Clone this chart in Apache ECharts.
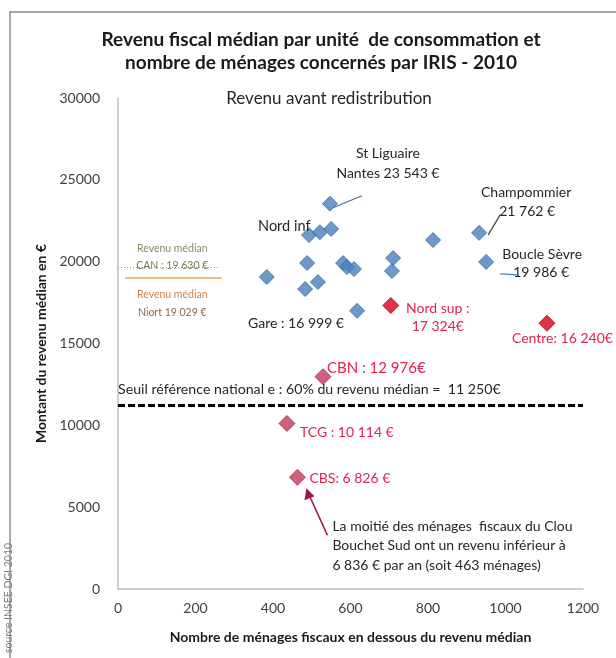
<!DOCTYPE html>
<html>
<head>
<meta charset="utf-8">
<script src="https://cdn.jsdelivr.net/npm/echarts@6/dist/echarts.min.js"></script>
<style>
  html, body { margin: 0; padding: 0; background: #fff; }
  #main { width: 616px; height: 658px; }
</style>
</head>
<body>
<div id="main"></div>
<script>
  // IRIS : nombre de ménages sous le revenu médian / revenu médian
  var blueX = [547, 493, 521, 550, 488, 384, 483, 516, 581, 591, 609, 617, 710, 707, 813, 932, 950]
  var blueY = [23543, 21625, 21800, 22000, 19914, 19060, 18326, 18754, 19914, 19670, 19548, 16999, 20220, 19426, 21319, 21762, 19986]
  var redX = [704, 1107]
  var redY = [17324, 16240]
  var lowX = [529, 436, 463]
  var lowY = [12976, 10114, 6826]
  var seuil = 11250
  var medianCAN = 19630
  var medianNiort = 19029
  var xTicks = [0, 200, 400, 600, 800, 1000, 1200]
  var yTicks = [0, 5000, 10000, 15000, 20000, 25000, 30000]

  var FONT = 'Lato'

  function pairs(xs, ys) {
    return xs.map(function (x, i) { return [x, ys[i]] })
  }

  var chart = echarts.init(document.getElementById('main'))

  var option = {
    animation: false,
    textStyle: { fontFamily: FONT },
    title: {
      text: 'Revenu fiscal médian par unité  de consommation et\nnombre de ménages concernés par IRIS - 2010',
      left: 316,
      top: 23,
      textAlign: 'center',
      textStyle: { fontFamily: FONT, fontSize: 19, fontWeight: 'bold', color: '#1a1a1a', lineHeight: 23 }
    },
    grid: { left: 118, right: 33, top: 98, bottom: 69 },
    xAxis: {
      type: 'value',
      min: xTicks[0],
      max: xTicks[xTicks.length - 1],
      interval: 200,
      name: 'Nombre de ménages fiscaux en dessous du revenu médian',
      nameLocation: 'middle',
      nameGap: 41,
      nameTextStyle: { fontFamily: FONT, fontSize: 14, fontWeight: 'bold', color: '#1a1a1a' },
      axisLine: { show: true, lineStyle: { color: '#bfbfbf', width: 1.5 } },
      axisTick: { show: false },
      splitLine: { show: false },
      axisLabel: { fontFamily: FONT, fontSize: 14, color: '#404040', margin: 12, formatter: function (v) { return String(v) } }
    },
    yAxis: {
      type: 'value',
      min: yTicks[0],
      max: yTicks[yTicks.length - 1],
      interval: 5000,
      name: 'Montant du revenu médian en €',
      nameLocation: 'middle',
      nameGap: 60,
      nameTextStyle: { fontFamily: FONT, fontSize: 14, fontWeight: 'bold', color: '#1a1a1a' },
      axisLine: { show: true, lineStyle: { color: '#bfbfbf', width: 1.5 } },
      axisTick: { show: false },
      splitLine: { show: false },
      axisLabel: { fontFamily: FONT, fontSize: 14, color: '#404040', margin: 18, formatter: function (v) { return String(v) } }
    },
    series: [
      {
        type: 'scatter',
        symbol: 'diamond',
        symbolSize: 15,
        itemStyle: { color: '#4a7ebb', borderColor: '#3b6aa5', borderWidth: 1 },
        data: pairs(blueX, blueY),
        z: 5,
        markLine: {
          silent: true,
          symbol: 'none',
          label: { show: false },
          data: [
            [
              { coord: [0, seuil], lineStyle: { color: '#000', width: 3, type: [7, 3] } },
              { coord: [1200, seuil] }
            ],
            [
              { coord: [0, medianCAN], lineStyle: { color: '#9a9a9a', width: 1, type: [1, 2] } },
              { coord: [262, medianCAN] }
            ],
            [
              { coord: [18, medianNiort], lineStyle: { color: '#f5a05a', width: 1.5, type: 'solid' } },
              { coord: [268, medianNiort] }
            ]
          ]
        }
      },
      {
        type: 'scatter',
        symbol: 'diamond',
        symbolSize: 16,
        itemStyle: { color: '#d8001a', borderColor: '#b00010', borderWidth: 1 },
        data: pairs(redX, redY),
        z: 5
      },
      {
        type: 'scatter',
        symbol: 'diamond',
        symbolSize: 16,
        itemStyle: { color: '#c23a5e', borderColor: '#a52a4c', borderWidth: 1 },
        data: pairs(lowX, lowY),
        z: 5
      }
    ]
  }

  chart.setOption(option)

  function px(x, y) {
    return chart.convertToPixel({ gridIndex: 0 }, [x, y])
  }

  var dark = '#262626'
  var red = '#e3234e'
  var g = []

  function txt(x, y, s, opt) {
    opt = opt || {}
    g.push({
      type: 'text',
      x: x,
      y: y,
      rotation: opt.rotation || 0,
      z: 20,
      style: {
        text: s,
        fill: opt.color || dark,
        font: (opt.bold ? 'bold ' : '') + (opt.size || 14) + 'px ' + FONT,
        align: opt.align || 'left',
        verticalAlign: opt.valign || 'middle',
        lineHeight: opt.lh || 19
      }
    })
  }

  function seg(p1, p2, color, w) {
    g.push({
      type: 'line',
      z: 20,
      shape: { x1: p1[0], y1: p1[1], x2: p2[0], y2: p2[1] },
      style: { stroke: color, lineWidth: w || 1 }
    })
  }

  // cadre du graphique
  g.push({
    type: 'rect',
    z: 0,
    shape: { x: 10, y: 12, width: 640, height: 700 },
    style: { fill: 'none', stroke: '#8c8c8c', lineWidth: 1.5 }
  })

  txt(329, 99, 'Revenu avant redistribution', { align: 'center', size: 17 })

  // étiquettes des IRIS
  var pLig = px(blueX[0], blueY[0])
  txt(pLig[0] + 58, pLig[1] - 40, 'St Liguaire\nNantes 23 543 €', { align: 'center', lh: 20 })
  seg([pLig[0] + 3, pLig[1] + 4], [pLig[0] + 32, pLig[1] - 8], '#4a6a9a', 1.2)

  var pInf = px(blueX[1], blueY[1])
  txt(pInf[0] - 51, pInf[1] - 9, 'Nord inf', { size: 14.5 })

  var pCha = px(blueX[15], blueY[15])
  txt(pCha[0] + 47, pCha[1] - 40, 'Champommier', { align: 'center' })
  txt(pCha[0] + 48, pCha[1] - 21, '21 762 €', { align: 'center' })
  seg([pCha[0] + 9, pCha[1] + 2], [pCha[0] + 21, pCha[1] - 18], '#404040', 1.2)

  var pBou = px(blueX[16], blueY[16])
  txt(pBou[0] + 56, pBou[1] - 7, 'Boucle Sèvre', { align: 'center' })
  txt(pBou[0] + 55, pBou[1] + 11, '19 986 €', { align: 'center' })
  seg([pBou[0] + 14, pBou[1] + 12], [pBou[0] + 33, pBou[1] + 13], '#4a7ebb', 1.2)

  var pGar = px(blueX[11], blueY[11])
  txt(pGar[0] - 109, pGar[1] + 13, 'Gare : 16 999 €')

  var pSup = px(redX[0], redY[0])
  txt(pSup[0] + 47, pSup[1] - 6, 'Nord sup :\n17 324€', { align: 'center', color: red, lh: 18, valign: 'top' })

  var pCen = px(redX[1], redY[1])
  txt(pCen[0] - 35, pCen[1] + 15, 'Centre: 16 240€', { color: red })

  var pCbn = px(lowX[0], lowY[0])
  txt(pCbn[0] + 4, pCbn[1] - 8, 'CBN : 12 976€', { color: red, size: 15 })

  var pTcg = px(lowX[1], lowY[1])
  txt(pTcg[0] + 13, pTcg[1] + 9, 'TCG : 10 114 €', { color: red })

  var pCbs = px(lowX[2], lowY[2])
  txt(pCbs[0] + 12, pCbs[1] + 1, 'CBS: 6 826 €', { color: red })

  // flèche vers CBS
  var a0 = [pCbs[0] + 30, pCbs[1] + 58]
  var a1 = [pCbs[0] + 10, pCbs[1] + 14]
  seg(a0, a1, '#a3143c', 1.6)
  g.push({
    type: 'polygon',
    z: 21,
    shape: { points: [[a1[0] - 1, a1[1] - 3], [a1[0] - 3, a1[1] + 9], [a1[0] + 7, a1[1] + 5]] },
    style: { fill: '#a3143c' }
  })
  txt(pCbs[0] + 35, pCbs[1] + 39, 'La moitié des ménages  fiscaux du Clou\nBouchet Sud ont un revenu inférieur à\n6 836 € par an (soit 463 ménages)', { lh: 19.5, valign: 'top' })

  var pSeu = px(0, seuil)
  txt(pSeu[0], pSeu[1] - 15, 'Seuil référence national e : 60% du revenu médian =  11 250€', { size: 14.2 })

  // revenus médians de référence
  var pCan = px(140, medianCAN)
  txt(pCan[0], pCan[1] - 19, 'Revenu médian', { align: 'center', color: '#8a8a6a', size: 10.5 })
  txt(pCan[0], pCan[1] - 2, 'CAN : 19 630 €', { align: 'center', color: '#7a7a50', size: 10.5 })
  var pNio = px(140, medianNiort)
  txt(pNio[0], pNio[1] + 17, 'Revenu médian', { align: 'center', color: '#d0864a', size: 10.5 })
  txt(pNio[0], pNio[1] + 35, 'Niort 19 029 €', { align: 'center', color: '#8a6a5a', size: 10.5 })

  // source
  txt(9, 598, 'source INSEE DGI 2010', { rotation: Math.PI / 2, align: 'center', color: '#808080', size: 10.5 })

  chart.setOption({ graphic: g })
</script>
</body>
</html>
